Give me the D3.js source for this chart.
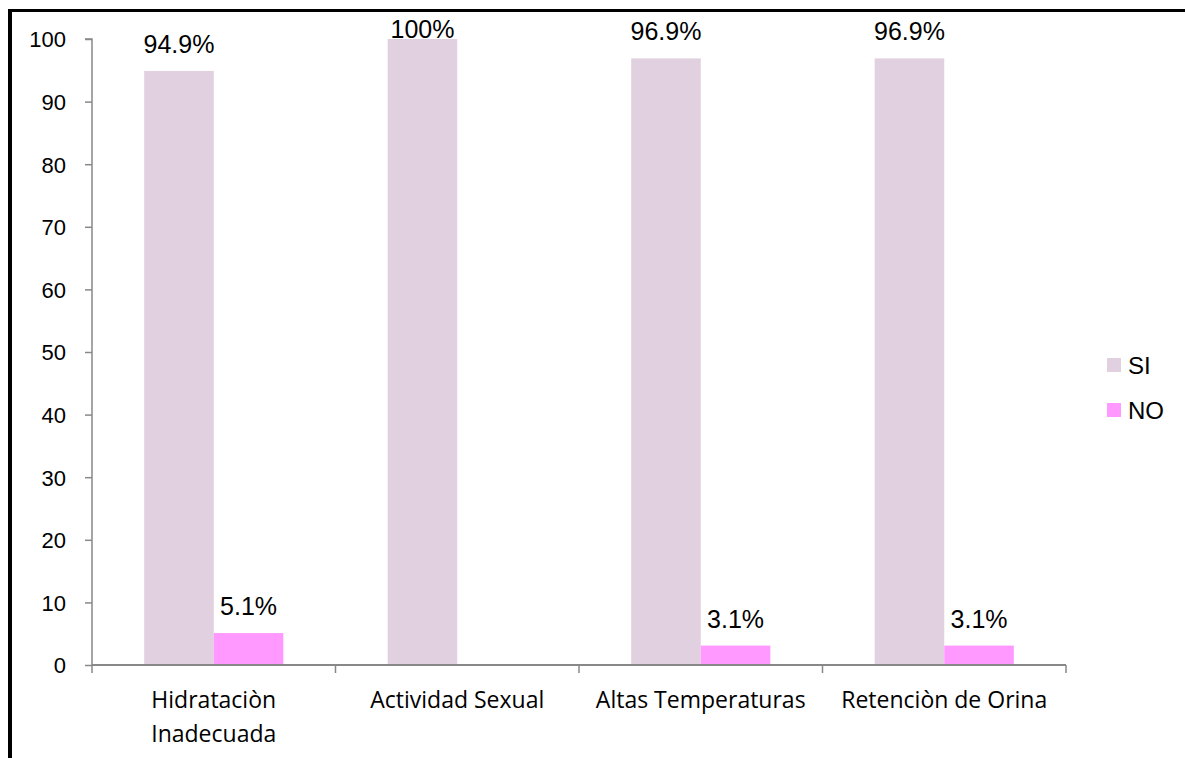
<!DOCTYPE html>
<html>
<head>
<meta charset="utf-8">
<script src="https://cdn.jsdelivr.net/npm/d3@7"></script>
<style>
  body { margin: 0; background: #fff; }
  svg { display: block; }
</style>
</head>
<body>
<svg id="chart"></svg>
<script>
// data
const categories = [['Hidrataciòn', 'Inadecuada'], ['Actividad Sexual'], ['Altas Temperaturas'], ['Retenciòn de Orina']];
const series = ['SI', 'NO'];
const siValues = [94.9, 100, 96.9, 96.9];
const noValues = [5.1, null, 3.1, 3.1];
const siLabels = ['94.9%', '100%', '96.9%', '96.9%'];
const noLabels = ['5.1%', '', '3.1%', '3.1%'];
const yTicks = [0, 10, 20, 30, 40, 50, 60, 70, 80, 90, 100];

const W = 1185, H = 758;
const colors = ['#e1d0e0', '#ff99ff'];
const axisColor = '#888';

const svg = d3.select('#chart').attr('width', W).attr('height', H);

// frame: thick black line top and left only
svg.append('line').attr('x1', 8).attr('x2', W).attr('y1', 10.5).attr('y2', 10.5)
    .attr('stroke', '#000').attr('stroke-width', 3);
svg.append('line').attr('x1', 10).attr('x2', 10).attr('y1', 9).attr('y2', H)
    .attr('stroke', '#000').attr('stroke-width', 4);

const plotLeft = 92, plotRight = 1066, plotTop = 39, plotBottom = 665;

const x = d3.scaleBand().domain(d3.range(categories.length)).range([plotLeft, plotRight]).paddingInner(0).paddingOuter(0);
// gap width 150% -> bar width = band / 3.5
const barW = x.bandwidth() / 3.5;
const y = d3.scaleLinear().domain([0, 100]).range([plotBottom, plotTop]);

// bars
const rows = categories.map((c, i) => ({i, vals: [siValues[i], noValues[i]], labs: [siLabels[i], noLabels[i]]}));
const g = svg.append('g');
rows.forEach(r => {
    r.vals.forEach((v, s) => {
        if (v == null) return;
        const bx = x(r.i) + x.bandwidth() / 2 - barW + s * barW;
        g.append('rect')
            .attr('x', bx).attr('width', barW)
            .attr('y', y(v)).attr('height', y(0) - y(v))
            .attr('fill', colors[s]);
        g.append('text')
            .attr('x', bx + barW / 2)
            .attr('y', Math.max(y(v) - 18, plotTop - 1))
            .attr('text-anchor', 'middle')
            .attr('font-family', 'Liberation Sans, Arial, sans-serif')
            .attr('font-size', 25)
            .attr('fill', '#000')
            .text(r.labs[s]);
    });
});

// y axis
const yAxis = svg.append('g').attr('transform', `translate(${plotLeft},0)`)
    .call(d3.axisLeft(y).tickValues(yTicks).tickSize(7).tickPadding(19));
yAxis.selectAll('line, path').attr('stroke', axisColor).attr('stroke-width', 1.5);
yAxis.select('.domain').attr('d', `M-7,${plotTop}H0V${plotBottom}`);
yAxis.selectAll('text').attr('font-family', 'Liberation Sans, Arial, sans-serif')
    .attr('font-size', 22).attr('fill', '#000').attr('dy', '0.36em');

// x axis with ticks on the category boundaries
const xAxis = svg.append('g').attr('transform', `translate(0,${plotBottom})`);
xAxis.append('path').attr('d', `M${plotLeft},0H${plotRight}`).attr('stroke', axisColor).attr('stroke-width', 2).attr('fill', 'none');
const bounds = d3.range(categories.length + 1).map(i => i < categories.length ? x(i) : plotRight);
xAxis.selectAll('.tk').data(bounds).join('line')
    .attr('x1', d => d).attr('x2', d => d).attr('y1', 0).attr('y2', 8)
    .attr('stroke', axisColor).attr('stroke-width', 1.5);
categories.forEach((c, i) => {
    const t = xAxis.append('text')
        .attr('x', x(i) + x.bandwidth() / 2)
        .attr('text-anchor', 'middle')
        .attr('font-family', 'Open Sans, sans-serif')
        .attr('font-size', 23)
        .attr('fill', '#000');
    c.forEach((line, k) => {
        t.append('tspan').attr('x', x(i) + x.bandwidth() / 2).attr('y', 43 + k * 34).text(line);
    });
});

// legend
const legend = svg.append('g').attr('transform', 'translate(1107,358)');
series.forEach((s, k) => {
    legend.append('rect').attr('x', 0).attr('y', k * 45).attr('width', 14).attr('height', 14).attr('fill', colors[k]);
    legend.append('text').attr('x', 21).attr('y', k * 45 + 7).attr('dy', '0.36em')
        .attr('font-family', 'Liberation Sans, Arial, sans-serif')
        .attr('font-size', 24).attr('fill', '#000').text(s);
});
</script>
</body>
</html>
